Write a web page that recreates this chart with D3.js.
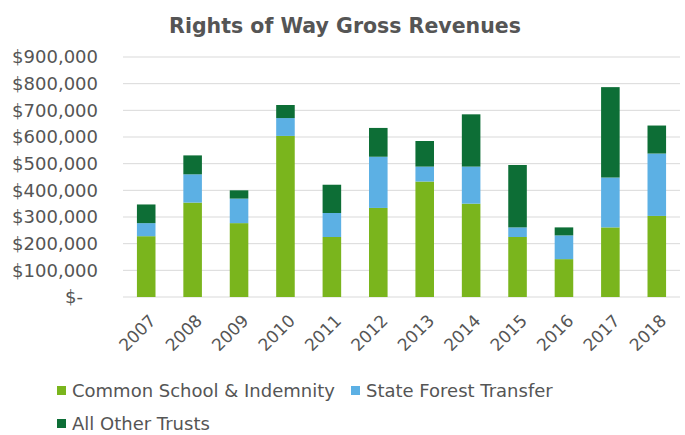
<!DOCTYPE html>
<html>
<head>
<meta charset="utf-8">
<script src="https://cdn.jsdelivr.net/npm/d3@7"></script>
<style>
  body { margin: 0; background: #fff; }
  text { font-family: "DejaVu Sans", Verdana, sans-serif; fill: #555; }
</style>
</head>
<body>
<svg id="chart"></svg>
<script>
// Data
const years = ['2007','2008','2009','2010','2011','2012','2013','2014','2015','2016','2017','2018'];
const commonSchool = [228000, 354000, 277000, 604000, 225000, 334000, 433000, 350000, 225000, 142000, 261000, 304000];
const stateForest  = [ 49000, 106000,  92000,  67000,  90000, 192000,  56000, 139000,  36000,  89000, 187000, 234000];
const otherTrusts  = [ 70000,  71000,  31000,  49000, 106000, 108000,  96000, 196000, 234000,  30000, 339000, 105000];
const seriesNames = ['Common School & Indemnity', 'State Forest Transfer', 'All Other Trusts'];
const seriesKeys = ['common', 'forest', 'other'];
const colors = ['#7ab51d', '#5cb0e4', '#0d6e36'];
const yTicks = [0, 100000, 200000, 300000, 400000, 500000, 600000, 700000, 800000, 900000];

const config = {
  width: 685, height: 435,
  margin: {top: 57, right: 5, bottom: 138, left: 123}
};
const width = config.width - config.margin.left - config.margin.right;
const height = config.height - config.margin.top - config.margin.bottom;

const table = years.map((y, i) => ({year: y, common: commonSchool[i], forest: stateForest[i], other: otherTrusts[i]}));
const stacked = d3.stack().keys(seriesKeys)(table);

const svg = d3.select('#chart')
    .attr('width', config.width)
    .attr('height', config.height);

const chart = svg.append('g')
    .attr('transform', `translate(${config.margin.left},${config.margin.top})`);

const xScale = d3.scaleBand().domain(years).range([0, width]).paddingInner(0.6).paddingOuter(0.3);
const yScale = d3.scaleLinear().domain([0, 900000]).range([height, 0]);

// Gridlines
chart.selectAll('.grid')
    .data(yTicks)
  .join('line')
    .attr('class', 'grid')
    .attr('x1', 0).attr('x2', width)
    .attr('y1', d => yScale(d)).attr('y2', d => yScale(d))
    .attr('stroke', '#d9d9d9')
    .attr('stroke-width', 1);

// Y axis labels (accounting style, zero shown as "$-")
const fmt = d => d === 0 ? '$-' : '$' + d3.format(',')(d);
const yAxis = d3.axisLeft(yScale).tickValues(yTicks).tickFormat(fmt).tickSize(0).tickPadding(25);
const yAxisG = chart.append('g').call(yAxis);
yAxisG.select('.domain').remove();
yAxisG.selectAll('text').style('font-size', '18px').attr('fill', '#555');
yAxisG.selectAll('.tick').filter(d => d === 0).select('text').attr('dx', '-15');

// Bars
chart.selectAll('.series')
    .data(stacked)
  .join('g')
    .attr('class', 'series')
    .attr('fill', (d, i) => colors[i])
  .selectAll('rect')
    .data(d => d)
  .join('rect')
    .attr('x', d => xScale(d.data.year))
    .attr('width', xScale.bandwidth())
    .attr('y', d => yScale(d[1]))
    .attr('height', d => yScale(d[0]) - yScale(d[1]));

// X axis labels
const xAxis = d3.axisBottom(xScale).tickSize(0).tickPadding(0);
const xAxisG = chart.append('g')
    .attr('transform', `translate(0,${height})`)
    .call(xAxis);
xAxisG.select('.domain').remove();
xAxisG.selectAll('text')
    .style('font-size', '17px')
    .attr('fill', '#555')
    .style('text-anchor', 'end')
    .attr('y', 0)
    .attr('dx', '-10px')
    .attr('dy', '25px')
    .attr('transform', 'rotate(-45)');

// Title
svg.append('text')
    .attr('x', 345)
    .attr('y', 33)
    .attr('text-anchor', 'middle')
    .style('font-size', '20.5px')
    .style('font-weight', 'bold')
    .attr('fill', '#595959')
    .text('Rights of Way Gross Revenues');

// Legend
const legendPos = [{x: 57, y: 391}, {x: 351, y: 391}, {x: 57, y: 424}];
const legend = svg.selectAll('.legend')
    .data(seriesNames)
  .join('g')
    .attr('class', 'legend')
    .attr('transform', (d, i) => `translate(${legendPos[i].x},${legendPos[i].y})`);
legend.append('rect')
    .attr('x', 0).attr('y', -5)
    .attr('width', 9).attr('height', 9)
    .attr('fill', (d, i) => colors[i]);
legend.append('text')
    .attr('x', 15)
    .attr('dy', '0.35em')
    .style('font-size', '18px')
    .attr('fill', '#555')
    .text(d => d);
</script>
</body>
</html>
